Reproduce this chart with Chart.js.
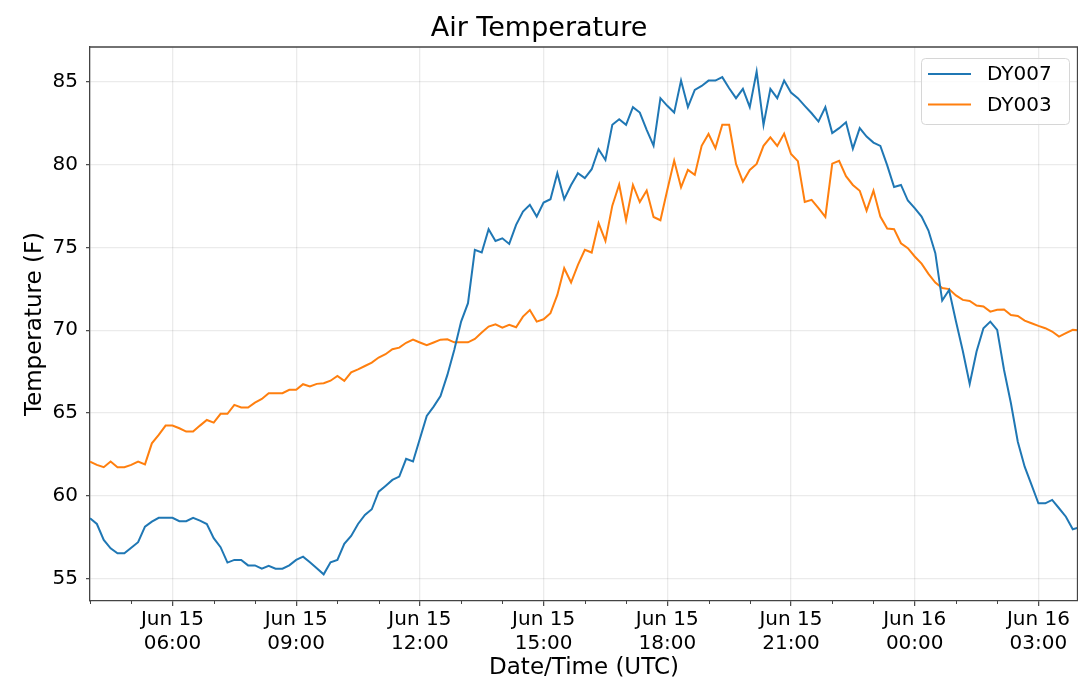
<!DOCTYPE html>
<html>
  <head>
    <meta charset="UTF-8">
    <title>Air Temperature</title>
    <style>
      html, body { margin: 0; padding: 0; background: #ffffff; }
      .chart-container { position: relative; width: 1078px; height: 694px; }
    </style>
    <script src="https://cdn.jsdelivr.net/npm/chart.js"></script>
  </head>
  <body>
    <div class="chart-container">
      <canvas id="tempChart"></canvas>
    </div>
    <script>
    // readings every 10 minutes, first one Jun 15 04:00 UTC
    const startHour = 4;
    const stepHours = 1 / 6;

    const seriesNames = ['DY007', 'DY003'];
    const seriesColors = ['#1f77b4', '#ff7f0e'];

    const dy007 = [
      58.65, 58.3, 57.34, 56.83, 56.53, 56.53, 56.87, 57.2, 58.14, 58.44, 58.67, 58.67,
      58.67, 58.47, 58.47, 58.67, 58.5, 58.3, 57.44, 56.9, 55.97, 56.13, 56.13, 55.8,
      55.8, 55.6, 55.77, 55.6, 55.6, 55.8, 56.13, 56.33, 55.99, 55.63, 55.26, 55.99,
      56.13, 57.1, 57.58, 58.3, 58.85, 59.19, 60.25, 60.6, 60.96, 61.16, 62.23, 62.07,
      63.45, 64.82, 65.39, 66.03, 67.3, 68.81, 70.52, 71.63, 74.85, 74.69, 76.1, 75.39,
      75.55, 75.21, 76.36, 77.16, 77.57, 76.86, 77.71, 77.91, 79.48, 77.91, 78.77, 79.48,
      79.18, 79.72, 80.93, 80.28, 82.4, 82.74, 82.4, 83.47, 83.14, 82.1, 81.15, 84.01,
      83.55, 83.14, 85.07, 83.47, 84.51, 84.75, 85.07, 85.07, 85.28, 84.61, 84.01, 84.57,
      83.47, 85.62, 82.4, 84.57, 84.01, 85.07, 84.35, 84.01, 83.55, 83.1, 82.6, 83.47,
      81.9, 82.2, 82.55, 80.96, 82.2, 81.69, 81.33, 81.13, 79.95, 78.65, 78.77, 77.83,
      77.37, 76.86, 76.02, 74.65, 71.79, 72.43, 70.54, 68.74, 66.76, 68.71, 70.12, 70.52,
      70.02, 67.6, 65.59, 63.27, 61.76, 60.66, 59.55, 59.55, 59.75, 59.25, 58.74, 57.98,
      58.1
    ];

    const dy003 = [
      62.07, 61.87, 61.73, 62.07, 61.73, 61.73, 61.87, 62.07, 61.9, 63.17, 63.68, 64.24,
      64.24, 64.08, 63.88, 63.88, 64.24, 64.58, 64.42, 64.95, 64.95, 65.49, 65.33, 65.33,
      65.63, 65.85, 66.2, 66.2, 66.2, 66.4, 66.4, 66.74, 66.6, 66.76, 66.8, 66.95,
      67.24, 66.94, 67.46, 67.64, 67.84, 68.04, 68.35, 68.55, 68.85, 68.95, 69.24, 69.43,
      69.26, 69.09, 69.26, 69.43, 69.45, 69.27, 69.27, 69.27, 69.47, 69.86, 70.22, 70.36,
      70.16, 70.32, 70.18, 70.82, 71.22, 70.52, 70.66, 71.03, 72.13, 73.74, 72.88, 73.94,
      74.85, 74.69, 76.46, 75.39, 77.52, 78.8, 76.64, 78.77, 77.74, 78.43, 76.84, 76.64,
      78.47, 80.24, 78.63, 79.68, 79.38, 81.13, 81.85, 80.99, 82.4, 82.4, 80.04, 78.97,
      79.68, 80.04, 81.13, 81.65, 81.13, 81.87, 80.64, 80.21, 77.74, 77.87, 77.37, 76.84,
      80.06, 80.23, 79.3, 78.77, 78.42, 77.22, 78.43, 76.86, 76.14, 76.1, 75.25, 74.95,
      74.45, 74.02, 73.4, 72.88, 72.55, 72.48, 72.1, 71.83, 71.77, 71.49, 71.43, 71.12,
      71.23, 71.25, 70.92, 70.86, 70.58, 70.42, 70.26, 70.12, 69.92, 69.61, 69.82, 70.02,
      70.0
    ];

    // labelled x ticks, hours counted from Jun 15 00:00
    const majorHours = [6, 9, 12, 15, 18, 21, 24, 27];

    const fontFamily = "'DejaVu Sans', sans-serif";
    const gridColor = 'rgba(0, 0, 0, 0.08)';
    const spineColor = '#444444';
    const clear = 'rgba(0, 0, 0, 0)';

    function toPoints(values) {
      return values.map((v, i) => ({ x: startHour + i * stepHours, y: v }));
    }

    function isMajor(ctx) {
      return ctx.tick && majorHours.includes(ctx.tick.value);
    }

    function hourLabel(value) {
      if (!majorHours.includes(value)) return '';
      const day = value >= 24 ? 16 : 15;
      const hh = String(value % 24).padStart(2, '0');
      return ['Jun ' + day, hh + ':00'];
    }

    // top and right spines, plus the short hourly minor ticks
    const framePlugin = {
      id: 'frame',
      afterDraw(chart) {
        const { ctx, chartArea: a } = chart;
        const xScale = chart.scales.x;
        ctx.save();
        ctx.strokeStyle = spineColor;
        ctx.lineWidth = 1.3;
        ctx.beginPath();
        ctx.moveTo(a.left, a.top);
        ctx.lineTo(a.right - 0.5, a.top);
        ctx.lineTo(a.right - 0.5, a.bottom);
        ctx.stroke();
        ctx.lineWidth = 1;
        ctx.beginPath();
        xScale.ticks.forEach(t => {
          if (majorHours.includes(t.value)) return;
          const px = Math.round(xScale.getPixelForValue(t.value)) + 0.5;
          ctx.moveTo(px, a.bottom);
          ctx.lineTo(px, a.bottom + 3);
        });
        ctx.stroke();
        ctx.restore();
      }
    };

    // matplotlib style legend inside the plot, upper right
    const boxLegendPlugin = {
      id: 'boxLegend',
      afterDraw(chart) {
        const { ctx, chartArea: a } = chart;
        const x0 = a.right - 157, y0 = a.top + 11, w = 148, h = 66;
        ctx.save();
        ctx.beginPath();
        ctx.roundRect(x0 + 0.5, y0 + 0.5, w, h, 4);
        ctx.fillStyle = 'rgba(255, 255, 255, 0.8)';
        ctx.fill();
        ctx.strokeStyle = '#d6d6d6';
        ctx.lineWidth = 1;
        ctx.stroke();
        ctx.font = '20px ' + fontFamily;
        ctx.textBaseline = 'middle';
        chart.data.datasets.forEach((ds, i) => {
          const ly = y0 + 16 + i * 30.5;
          ctx.strokeStyle = ds.borderColor;
          ctx.lineWidth = 2;
          ctx.beginPath();
          ctx.moveTo(x0 + 7, ly);
          ctx.lineTo(x0 + 50, ly);
          ctx.stroke();
          ctx.fillStyle = '#000000';
          ctx.fillText(ds.label, x0 + 66, ly + 1);
        });
        ctx.restore();
      }
    };

    Chart.defaults.font.family = fontFamily;
    Chart.defaults.color = '#000000';

    new Chart(document.getElementById('tempChart').getContext('2d'), {
      type: 'line',
      data: {
        datasets: [dy007, dy003].map((values, i) => ({
          label: seriesNames[i],
          data: toPoints(values),
          borderColor: seriesColors[i],
          backgroundColor: seriesColors[i],
          borderWidth: 2,
          pointRadius: 0,
          tension: 0,
          fill: false
        }))
      },
      options: {
        responsive: true,
        maintainAspectRatio: false,
        animation: false,
        layout: { padding: 0 },
        plugins: {
          legend: { display: false },
          tooltip: { enabled: false },
          title: {
            display: true,
            text: 'Air Temperature',
            color: '#000000',
            font: { size: 27, weight: 'normal', lineHeight: 1.2 },
            padding: { top: 13, bottom: 1.6 }
          }
        },
        scales: {
          x: {
            type: 'linear',
            min: 4,
            max: 27.96,
            afterFit: scale => { scale.height = 93; },
            grid: {
              color: ctx => isMajor(ctx) ? gridColor : clear,
              lineWidth: 1.3,
              tickLength: 5,
              tickColor: ctx => isMajor(ctx) ? spineColor : clear,
              tickWidth: 1.2
            },
            border: { color: spineColor, width: 1.3 },
            ticks: {
              stepSize: 1,
              autoSkip: false,
              maxRotation: 0,
              includeBounds: false,
              padding: 2,
              font: { size: 20 },
              callback: value => hourLabel(value)
            },
            title: {
              display: true,
              text: 'Date/Time (UTC)',
              font: { size: 23 },
              padding: { top: 0, bottom: 12 }
            }
          },
          y: {
            min: 53.65,
            max: 87.1,
            afterFit: scale => { scale.width = 90; },
            grid: {
              color: gridColor,
              lineWidth: 1.3,
              tickLength: 4,
              tickColor: spineColor,
              tickWidth: 1.2
            },
            border: { color: spineColor, width: 1.3 },
            ticks: {
              stepSize: 5,
              includeBounds: false,
              padding: 8,
              font: { size: 20 }
            },
            title: {
              display: true,
              text: 'Temperature (F)',
              font: { size: 23 },
              padding: { top: 21, bottom: 0 }
            }
          }
        }
      },
      plugins: [framePlugin, boxLegendPlugin]
    });
  </script>
  </body>
</html>
